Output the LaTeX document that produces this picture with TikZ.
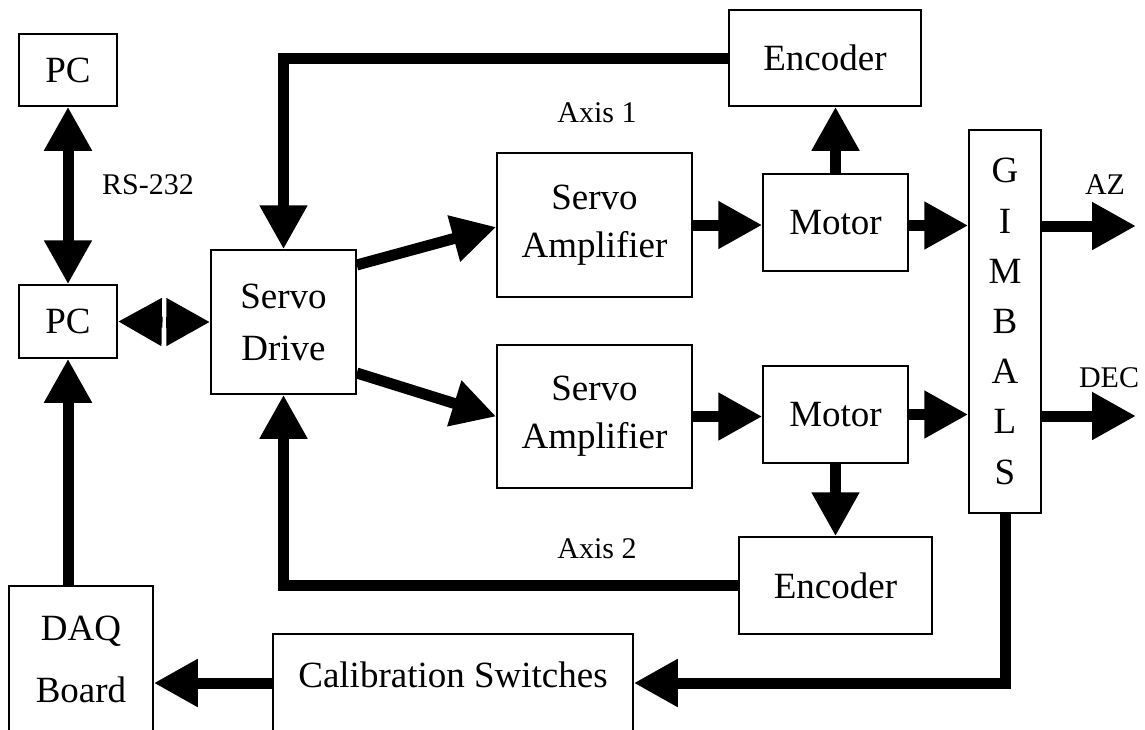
\documentclass[tikz,border=0pt]{standalone}
\usepackage{fontspec}
\setmainfont{Liberation Serif}
\usetikzlibrary{arrows.meta}
\begin{document}
\begin{tikzpicture}[x=1pt,y=-1pt,
  box/.style={draw,line width=1.5pt,inner sep=0pt,align=center,font=\fontsize{37}{48}\selectfont},
  arr/.style={line width=11pt,line join=miter,-{Triangle[length=44pt,width=45pt]}},
  lbl/.style={font=\fontsize{30}{36}\selectfont}]
\useasboundingbox (0,0) rectangle (1145,729);
\clip (0,0) rectangle (1145,729);
% blocks
\node[box,minimum width=98pt,minimum height=72pt] (pc1) at (68,70) {PC};
\node[box,minimum width=98pt,minimum height=73pt] (pc2) at (68,321.5) {PC};
\node[box,minimum width=145pt,minimum height=144pt,font=\fontsize{37}{52}\selectfont] (drive) at (283.5,322) {Servo\\Drive};
\node[box,minimum width=195pt,minimum height=144pt] (amp1) at (594.5,225) {Servo\\Amplifier};
\node[box,minimum width=195pt,minimum height=143pt] (amp2) at (594.5,416.5) {Servo\\Amplifier};
\node[box,minimum width=145pt,minimum height=97pt] (mot1) at (835.5,222.5) {Motor};
\node[box,minimum width=145pt,minimum height=97pt] (mot2) at (835.5,414.5) {Motor};
\node[box,minimum width=192pt,minimum height=96pt] (enc1) at (825,58) {Encoder};
\node[box,minimum width=193pt,minimum height=97pt] (enc2) at (835.5,585.5) {Encoder};
\node[box,minimum width=72pt,minimum height=383pt,font=\fontsize{37}{50.2}\selectfont] (gim) at (1005,321.5) {G\\I\\M\\B\\A\\L\\S};
\node[box,minimum width=144pt,minimum height=146pt,font=\fontsize{37}{62}\selectfont] (daq) at (81,659) {DAQ\\Board};
\node[box,minimum width=360pt,minimum height=112pt] (cal) at (453,690) {\raisebox{3pt}[0pt][0pt]{Calibration Switches}};
% labels
\node[lbl] (rs) at (148,185) {RS-232};
\node[lbl] (ax1) at (597,113) {Axis 1};
\node[lbl] (ax2) at (597,549) {Axis 2};
\node[lbl] (azl) at (1105,185) {AZ};
\node[lbl] (decl) at (1109,378) {DEC};
% free ends
\coordinate (az) at (1136,226);
\coordinate (dec) at (1136,416);
\coordinate (m1) at (162.5,322);
\coordinate (m2) at (165.5,322);
% connectors
\draw[arr,{Triangle[length=44pt,width=45pt]}-{Triangle[length=44pt,width=45pt]}] (pc1.south) -- (pc2.north);
\draw[arr] (m1) -- (pc2.east);
\draw[arr] (m2) -- (drive.west);
\draw[arr] ([yshift=57pt]drive.east) -- ([yshift=-2pt]amp1.west);
\draw[arr] ([yshift=-51pt]drive.east) -- (amp2.west);
\draw[arr] (amp1.east) -- (amp1.east -| mot1.west);
\draw[arr] (amp2.east) -- (amp2.east -| mot2.west);
\draw[arr] ([yshift=-3pt]mot1.east) -- ([yshift=-3pt]mot1.east -| gim.west);
\draw[arr] (mot2.east) -- (mot2.east -| gim.west);
\draw[arr] (mot1.north) -- (mot1.north |- enc1.south);
\draw[arr] (mot2.south) -- (mot2.south |- enc2.north);
\draw[arr] (enc1.west) -| (drive.north);
\draw[arr] (enc2.west) -| (drive.south);
\draw[arr] (gim.east |- az) -- (az);
\draw[arr] (gim.east |- dec) -- (dec);
\draw[arr] (gim.south) |- ([yshift=7pt]cal.east);
\draw[arr] ([yshift=7pt]cal.west) -- ([yshift=7pt]cal.west -| daq.east);
\draw[arr] (pc2.south |- daq.north) -- (pc2.south);
\end{tikzpicture}
\end{document}
